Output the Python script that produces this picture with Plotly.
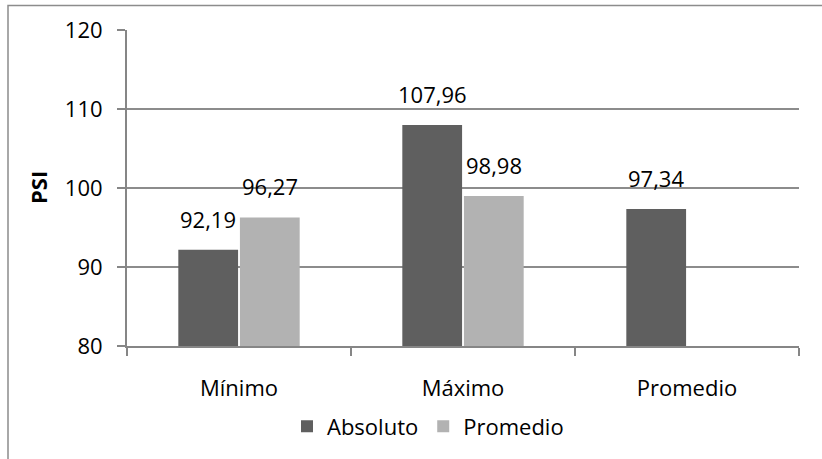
import plotly.graph_objects as go

categories = ["Mínimo", "Máximo", "Promedio"]
absoluto = [92.19, 107.96, 97.34]
promedio = [96.27, 98.98, None]
series_names = ["Absoluto", "Promedio"]
colors = ["#5f5f5f", "#b2b2b2"]
y_ticks = [80, 90, 100, 110, 120]

FONT = "Open Sans"
FS = 22
W, H = 822, 459
L, R, T, B = 127, 23, 30, 107
pw, ph = W - L - R, H - T - B
BARGAP = 0.45

def px_x(p):
    return (p - L) / pw

def px_y(p):
    return (H - B - p) / ph

xpos = list(range(len(categories)))
fig = go.Figure()
annotations = []
series = [absoluto, promedio]
half = (1 - BARGAP) / 4
for k, (name, vals, col) in enumerate(zip(series_names, series, colors)):
    fig.add_trace(go.Bar(
        x=xpos, y=vals, name=name,
        marker=dict(color=col, line=dict(width=0)),
    ))
    off = -half if k == 0 else half
    for xi, v in zip(xpos, vals):
        if v is None:
            continue
        annotations.append(dict(
            x=xi + off, y=v, xref="x", yref="y",
            text=f"{v:.2f}".replace(".", ","), showarrow=False,
            yanchor="bottom", xanchor="center", yshift=14,
            font=dict(family=FONT, size=FS, color="#000000"),
        ))

annotations.append(dict(
    x=px_x(38), y=0.5, xref="paper", yref="paper", textangle=-90,
    text="<b>PSI</b>", showarrow=False, xanchor="center", yanchor="middle",
    font=dict(family=FONT, size=FS, color="#000000"),
))

fig.update_layout(
    width=W, height=H,
    margin=dict(l=L, r=R, t=T, b=B),
    paper_bgcolor="white", plot_bgcolor="white",
    barmode="group", bargap=BARGAP, bargroupgap=0.03,
    font=dict(family=FONT, size=FS, color="#000000"),
    showlegend=True,
    legend=dict(orientation="h", x=px_x(428), xanchor="center",
                y=px_y(434), yanchor="middle",
                font=dict(family=FONT, size=FS), traceorder="normal",
                itemwidth=30),
    annotations=annotations,
    shapes=[dict(type="rect", xref="paper", yref="paper",
                 x0=px_x(8), x1=px_x(900), y0=px_y(600), y1=px_y(5),
                 line=dict(color="#8c8c8c", width=1.5), layer="below")],
)
fig.update_xaxes(
    range=[-0.5, len(categories) - 0.5],
    tickvals=xpos, ticktext=categories,
    showline=True, linecolor="#868686", linewidth=2,
    ticks="", showgrid=False, zeroline=False, ticklabelstandoff=22,
    tickfont=dict(family=FONT, size=FS),
    minor=dict(tickvals=[i - 0.5 for i in range(len(categories) + 1)],
               ticks="outside", ticklen=8, tickcolor="#868686", tickwidth=2,
               showgrid=False),
)
fig.update_yaxes(
    range=[80, 120], tickvals=y_ticks, showline=True, linecolor="#868686",
    linewidth=2, ticks="outside", ticklen=8, tickcolor="#868686", tickwidth=2,
    showgrid=True, gridcolor="#8c8c8c", gridwidth=2, zeroline=False,
    ticklabelstandoff=10,
    tickfont=dict(family=FONT, size=FS),
)

fig.write_html("out.html")
